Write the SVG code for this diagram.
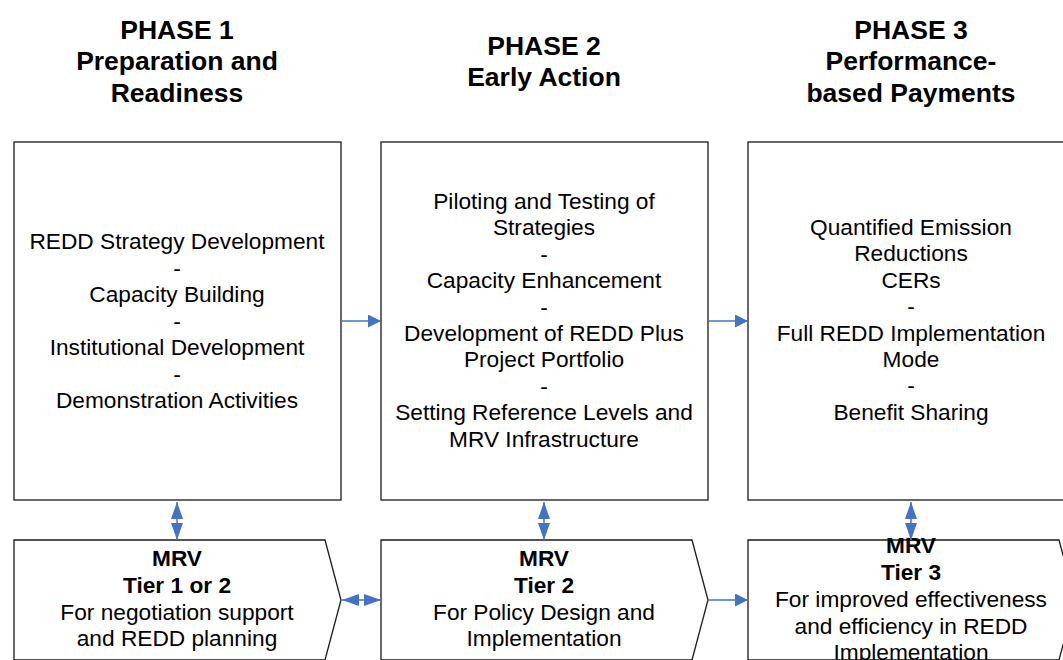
<svg xmlns="http://www.w3.org/2000/svg" width="1063" height="660" viewBox="0 0 1063 660">
<style>
.box{fill:#fff;stroke:#1a1a1a;stroke-width:1.3}
.t{font-family:"Liberation Sans",Arial,sans-serif;font-size:22.7px;fill:#000;text-anchor:middle}
.h{font-family:"Liberation Sans",Arial,sans-serif;font-size:26.5px;font-weight:bold;fill:#000;text-anchor:middle}
.b{font-weight:bold}
.c{stroke:#4472C4;stroke-width:1.5;fill:none}
</style>
<defs>
<marker id="ah" markerUnits="userSpaceOnUse" markerWidth="14" markerHeight="13" refX="13" refY="6.5" orient="auto">
<path d="M0,0 L13,6.5 L0,13 Z" fill="#4472C4"/>
</marker>
<marker id="dh" markerUnits="userSpaceOnUse" markerWidth="18" markerHeight="13" refX="17" refY="6.5" orient="auto-start-reverse">
<path d="M0,0.5 L17,6.5 L0,12.5 Z" fill="#4472C4"/>
</marker>
</defs>

<g id="titles">
<text class="h" x="177" y="38.5">PHASE 1</text>
<text class="h" x="177" y="70">Preparation and</text>
<text class="h" x="177" y="101.5">Readiness</text>
<text class="h" x="544" y="54.5">PHASE 2</text>
<text class="h" x="544" y="86">Early Action</text>
<text class="h" x="911" y="38.5">PHASE 3</text>
<text class="h" x="911" y="70">Performance-</text>
<text class="h" x="911" y="101.5">based Payments</text>
</g>

<g id="phase1">
<rect class="box" x="14" y="142" width="327" height="358"/>
<text class="t" x="177" y="249">REDD Strategy Development</text>
<text class="t" x="177" y="275.5">-</text>
<text class="t" x="177" y="302">Capacity Building</text>
<text class="t" x="177" y="328.5">-</text>
<text class="t" x="177" y="355">Institutional Development</text>
<text class="t" x="177" y="381.5">-</text>
<text class="t" x="177" y="408">Demonstration Activities</text>
</g>

<g id="phase2">
<rect class="box" x="381" y="142" width="327" height="358"/>
<text class="t" x="544" y="209">Piloting and Testing of</text>
<text class="t" x="544" y="235.4">Strategies</text>
<text class="t" x="544" y="261.8">-</text>
<text class="t" x="544" y="288.2">Capacity Enhancement</text>
<text class="t" x="544" y="314.6">-</text>
<text class="t" x="544" y="341">Development of REDD Plus</text>
<text class="t" x="544" y="367.4">Project Portfolio</text>
<text class="t" x="544" y="393.8">-</text>
<text class="t" x="544" y="420.2">Setting Reference Levels and</text>
<text class="t" x="544" y="446.6">MRV Infrastructure</text>
</g>

<g id="phase3">
<rect class="box" x="748" y="142" width="330" height="358"/>
<text class="t" x="911" y="235">Quantified Emission</text>
<text class="t" x="911" y="261.4">Reductions</text>
<text class="t" x="911" y="287.8">CERs</text>
<text class="t" x="911" y="314.2">-</text>
<text class="t" x="911" y="340.6">Full REDD Implementation</text>
<text class="t" x="911" y="367">Mode</text>
<text class="t" x="911" y="393.4">-</text>
<text class="t" x="911" y="419.8">Benefit Sharing</text>
</g>

<g id="mrv1">
<path class="box" d="M14,540 L325,540 L341,600 L325,660 L14,660 Z"/>
<text class="t b" x="177" y="566">MRV</text>
<text class="t b" x="177" y="593">Tier 1 or 2</text>
<text class="t" x="177" y="620">For negotiation support</text>
<text class="t" x="177" y="646">and REDD planning</text>
</g>

<g id="mrv2">
<path class="box" d="M381,540 L692,540 L708,600 L692,660 L381,660 Z"/>
<text class="t b" x="544" y="566">MRV</text>
<text class="t b" x="544" y="593">Tier 2</text>
<text class="t" x="544" y="620">For Policy Design and</text>
<text class="t" x="544" y="646">Implementation</text>
</g>

<g id="mrv3">
<path class="box" d="M748,540 L1059,540 L1075,600 L1059,660 L748,660 Z"/>
<text class="t b" x="911" y="553">MRV</text>
<text class="t b" x="911" y="580">Tier 3</text>
<text class="t" x="911" y="607">For improved effectiveness</text>
<text class="t" x="911" y="634">and efficiency in REDD</text>
<text class="t" x="911" y="660">Implementation</text>
</g>

<g id="connectors">
<line class="c" x1="341" y1="321" x2="381" y2="321" marker-end="url(#ah)"/>
<line class="c" x1="708" y1="321" x2="748" y2="321" marker-end="url(#ah)"/>
<line class="c" x1="708" y1="600" x2="748" y2="600" marker-end="url(#ah)"/>
<line class="c" x1="177" y1="502" x2="177" y2="540" marker-start="url(#dh)" marker-end="url(#dh)"/>
<line class="c" x1="544" y1="502" x2="544" y2="540" marker-start="url(#dh)" marker-end="url(#dh)"/>
<line class="c" x1="911" y1="502" x2="911" y2="540" marker-start="url(#dh)" marker-end="url(#dh)"/>
<line class="c" x1="342" y1="600" x2="381" y2="600" marker-start="url(#dh)" marker-end="url(#dh)"/>
</g>
</svg>
